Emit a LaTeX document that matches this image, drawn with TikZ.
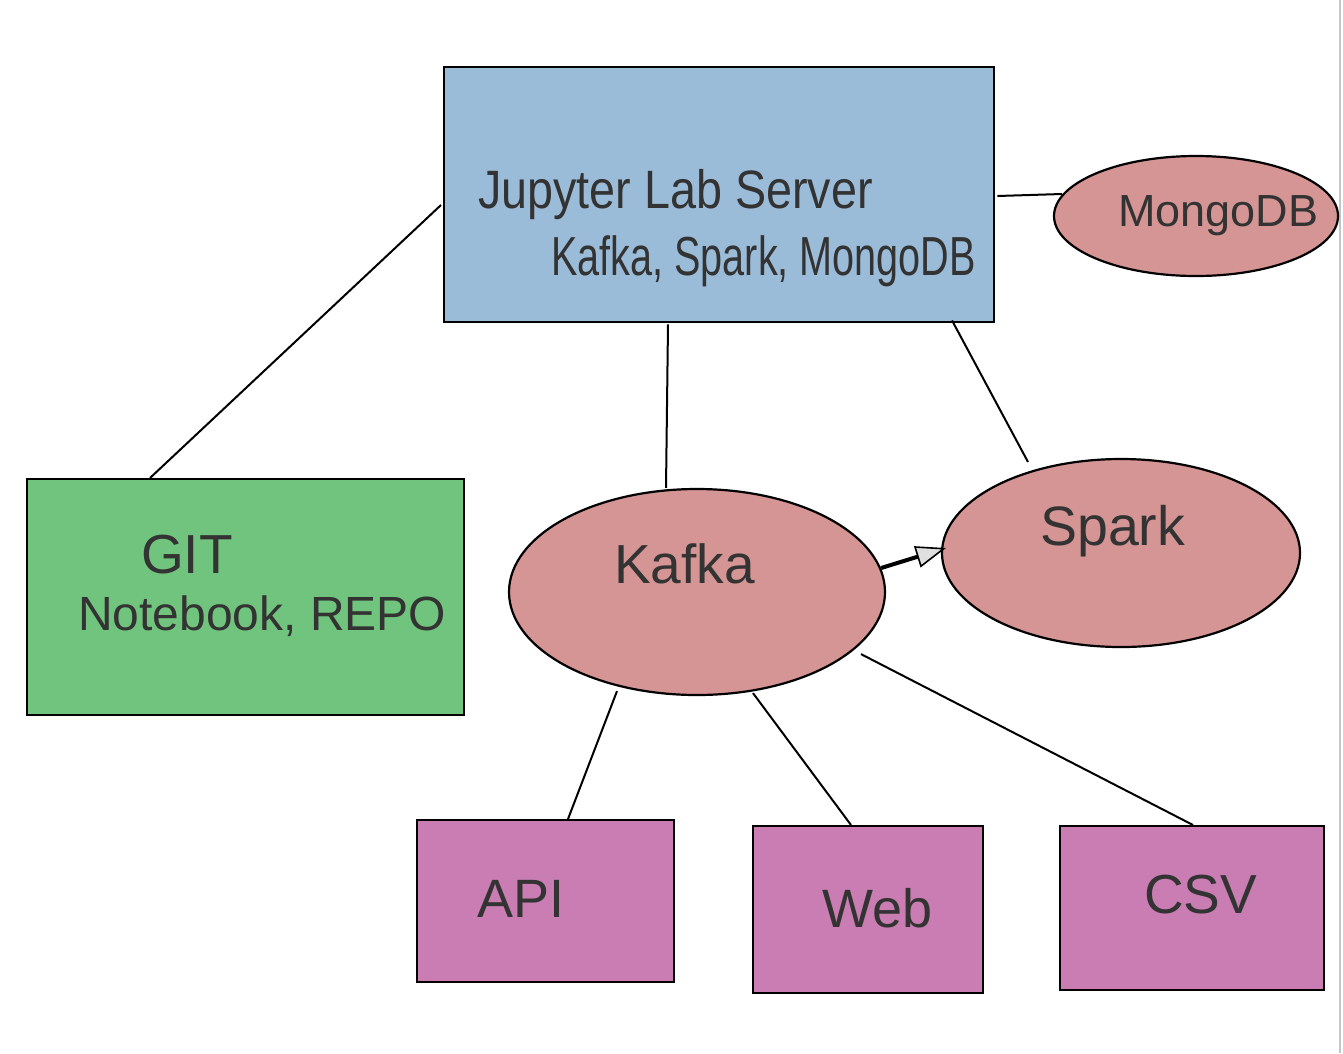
\documentclass[tikz,border=0pt]{standalone}
\usepackage{fontspec}
\setmainfont{Liberation Sans}
\usetikzlibrary{shapes.geometric,arrows.meta,calc}
\definecolor{jblue}{RGB}{155,188,216}
\definecolor{ggreen}{RGB}{113,196,125}
\definecolor{epink}{RGB}{213,149,148}
\definecolor{bpurple}{RGB}{201,125,178}
\definecolor{txt}{RGB}{51,51,51}
\tikzset{
  box/.style={draw=black,line width=2.4pt,inner sep=0pt,anchor=north west},
  ell/.style={draw=black,ellipse,line width=2.2pt,fill=epink,inner sep=0pt},
  lbl/.style={anchor=base west,inner sep=0pt,text=txt},
  conn/.style={line width=2pt,draw=black},
}
\begin{document}
\begin{tikzpicture}[x=1pt,y=-1pt]
\useasboundingbox (0,0) rectangle (1343,1053);
\fill[white] (0,0) rectangle (1343,1053);
\draw[gray!45,line width=2pt] (1340,0) coordinate (eA) -- (1340,1053) coordinate (eB);
% boxes
\node[box,fill=jblue,minimum width=550pt,minimum height=255pt] (jup) at (443,66) {};
\node[box,fill=ggreen,minimum width=437pt,minimum height=236pt] (git) at (26,478) {};
\node[box,fill=bpurple,minimum width=257pt,minimum height=162pt] (api) at (416,819) {};
\node[box,fill=bpurple,minimum width=230pt,minimum height=167pt] (web) at (752,825) {};
\node[box,fill=bpurple,minimum width=264pt,minimum height=164pt] (csv) at (1059,825) {};
% ellipses
\node[ell,minimum width=284pt,minimum height=120pt] (mongo) at (1196,216) {};
\node[ell,minimum width=376pt,minimum height=206pt] (kafka) at (697,592) {};
\node[ell,minimum width=358pt,minimum height=188pt] (spark) at (1121,553) {};
% labels
\node[lbl,font=\fontsize{54}{60}\selectfont] (tj1) at (478,208) {\scalebox{0.865}[1]{Jupyter Lab Server}};
\node[lbl,font=\fontsize{55}{60}\selectfont] (tj2) at (551,275) {\scalebox{0.72}[1]{Kafka, Spark, MongoDB}};
\node[lbl,font=\fontsize{45}{50}\selectfont] (tm) at (1118,226) {MongoDB};
\node[lbl,font=\fontsize{55}{60}\selectfont] (tg1) at (141,573) {GIT};
\node[lbl,font=\fontsize{48}{55}\selectfont] (tg2) at (78,630) {Notebook, REPO};
\node[lbl,font=\fontsize{55}{60}\selectfont] (tk) at (614,583) {Kafka};
\node[lbl,font=\fontsize{55.5}{60}\selectfont] (ts) at (1040,545) {Spark};
\node[lbl,font=\fontsize{54}{60}\selectfont] (ta) at (477,917) {API};
\node[lbl,font=\fontsize{54}{60}\selectfont] (tw) at (822,927) {Web};
\node[lbl,font=\fontsize{55}{60}\selectfont] (tc) at (1144,913) {CSV};
% connectors
\draw[conn] ($(jup.north west)+(-2,139)$) -- ($(git.north west)+(124,0)$);
\draw[conn] ($(jup.north east)+(2,130)$) -- ($(mongo.west |- 0,194)+(9,0)$);
\draw[conn] ($(jup.south west)+(225,1)$) -- ($(kafka.north)+(-31,0)$);
\draw[conn] ($(jup.south west)+(509,-3)$) -- ($(spark.center)+(-93,-91)$);
\draw[line width=4pt,-{Triangle[length=30pt,width=22pt,fill=gray!25,line width=1.6pt]}] ($(kafka.east)+(-5,-24)$) -- ($(spark.west)+(5,-5)$);
\draw[conn] ($(kafka.south)+(-80,-5)$) -- ($(api.north west)+(152,0)$);
\draw[conn] ($(kafka.south)+(56,-3)$) -- ($(web.north west)+(99,0)$);
\draw[conn] ($(kafka.south)+(164,-42)$) -- ($(csv.north west)+(134,0)$);
\end{tikzpicture}
\end{document}
